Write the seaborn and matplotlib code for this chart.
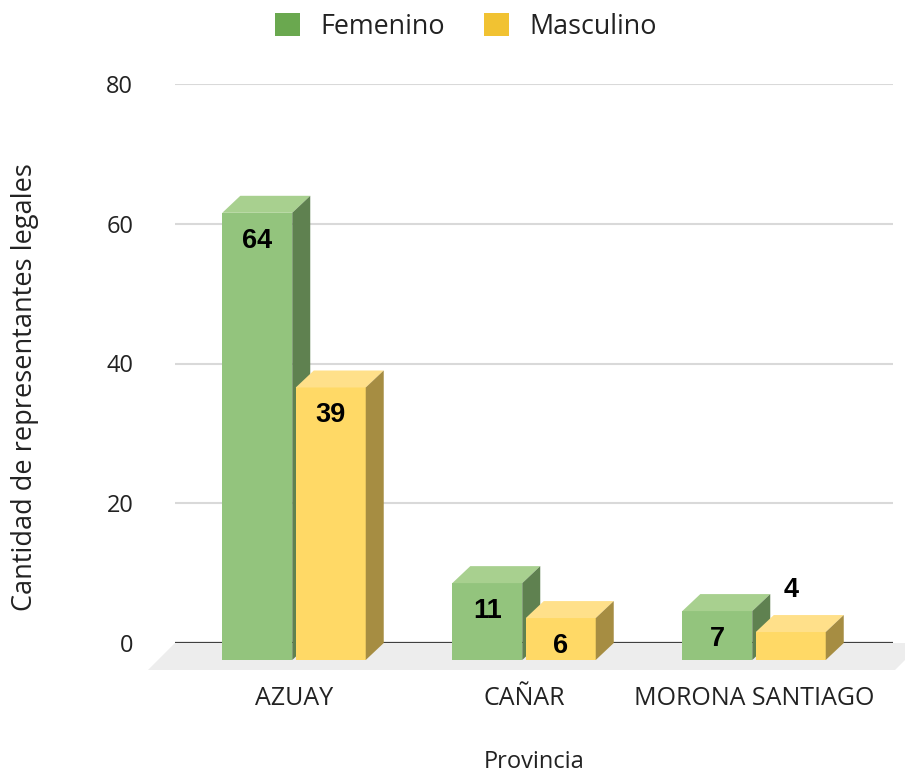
import numpy as np
import pandas as pd
import matplotlib
matplotlib.use("Agg")
import matplotlib.pyplot as plt
import seaborn as sns
from matplotlib.transforms import ScaledTranslation, IdentityTransform
from matplotlib.patches import Polygon, Patch

# ---- data ----
provincias = ["AZUAY", "CAÑAR", "MORONA SANTIAGO"]
femenino = [64, 11, 7]
masculino = [39, 6, 4]
series = ["Femenino", "Masculino"]
yticks = [0, 20, 40, 60, 80]

df = pd.DataFrame({
    "Provincia": provincias + provincias,
    "Cantidad": femenino + masculino,
    "Sexo": [series[0]] * len(provincias) + [series[1]] * len(provincias),
})

# ---- style ----
W, H, DPI = 905, 776, 100
DX, DY = 18, 17  # 3D depth in px

sns.set_theme(style="white")
plt.rcParams["font.family"] = ["Open Sans", "DejaVu Sans"]

front = {"Femenino": "#93C47D", "Masculino": "#FFD966"}
topc = {"Femenino": "#A8D08F", "Masculino": "#FFE08A"}
sidec = {"Femenino": "#5F8150", "Masculino": "#A68D42"}
legc = {"Femenino": "#6AA84F", "Masculino": "#F1C232"}
txt = "#222222"

fig = plt.figure(figsize=(W / DPI, H / DPI), dpi=DPI)
ax = fig.add_axes([175 / W, 133 / H, 718 / W, 559 / H])

sns.barplot(data=df, x="Provincia", y="Cantidad", hue="Sexo", hue_order=series,
            palette=[front[s] for s in series], width=0.639, gap=0.048,
            saturation=1, legend=False, ax=ax, errorbar=None)

ax.set_xlim(-0.5957, 2.526)
ax.set_ylim(0, 80)
ax.set_yticks(yticks)
for s in ax.spines.values():
    s.set_visible(False)

ax.yaxis.grid(True, color="#D9D9D9", lw=1.5, zorder=0)
ax.xaxis.grid(False)
ax.set_axisbelow(True)
ax.axhline(0, color="#404040", lw=1.6, zorder=1)

# floor
floor = Polygon([(175, 133), (922, 133), (895, 106), (148, 106)],
                closed=True, facecolor="#EDEDED", edgecolor="none",
                transform=IdentityTransform(), clip_on=False, zorder=0.8)
ax.add_patch(floor)

off = ScaledTranslation(-DX / DPI, -DY / DPI, fig.dpi_scale_trans)
for i, (cont, s) in enumerate(zip(ax.containers, series)):
    for bar, v in zip(cont.patches, cont.datavalues):
        x0 = bar.get_x()
        x1 = x0 + bar.get_width()
        bar.set_transform(ax.transData + off)
        bar.set_clip_on(False)
        bar.set_edgecolor("none")
        bar.set_zorder(3 + i)
        (bx0, bty), (bx1, bby) = ax.transData.transform([(x0, v), (x1, 0)])
        top = Polygon([(bx0 - DX, bty - DY), (bx1 - DX, bty - DY), (bx1, bty), (bx0, bty)],
                      closed=True, facecolor=topc[s], edgecolor="none",
                      transform=IdentityTransform(), clip_on=False, zorder=3 + i)
        side = Polygon([(bx1 - DX, bty - DY), (bx1, bty), (bx1, bby), (bx1 - DX, bby - DY)],
                       closed=True, facecolor=sidec[s], edgecolor="none",
                       transform=IdentityTransform(), clip_on=False, zorder=3 + i)
        ax.add_patch(top)
        ax.add_patch(side)
        cx = (x0 + x1) / 2
        if v >= 5:
            toff = ScaledTranslation(-DX / DPI, -(DY + 28) / DPI, fig.dpi_scale_trans)
        else:
            toff = ScaledTranslation(-DX / DPI, 25 / DPI, fig.dpi_scale_trans)
        ax.text(cx, v, f"{int(v)}", transform=ax.transData + toff,
                ha="center", va="center", fontsize=19.5, fontweight="bold",
                family=["Liberation Sans", "DejaVu Sans"], color="black",
                zorder=10)

# ticks
ax.tick_params(axis="y", length=0, pad=30, labelsize=17, labelcolor=txt)
ax.tick_params(axis="x", length=0, pad=31, labelsize=18, labelcolor=txt)
xoff = ScaledTranslation(-DX / DPI, 0, fig.dpi_scale_trans)
for lbl in ax.get_xticklabels():
    lbl.set_transform(lbl.get_transform() + xoff)

ax.set_xlabel("Provincia", fontsize=17, color=txt)
ax.xaxis.set_label_coords(0.5, -0.2236)
ax.xaxis.label.set_va("baseline")
ax.set_ylabel("Cantidad de representantes legales", fontsize=19.5, color=txt)
ax.yaxis.set_label_coords(-0.209, 0.4580)
ax.yaxis.label.set_va("center")

handles = [Patch(facecolor=legc[s], edgecolor="none", label=s) for s in series]
fig.legend(handles=handles, loc="center", bbox_to_anchor=(466 / W, 1 - 27 / H),
           ncol=2, frameon=False, fontsize=19.4, handlelength=0.93, handleheight=0.93,
           handletextpad=0.75, columnspacing=1.45, labelcolor=txt)

fig.savefig("out.png", dpi=DPI)
